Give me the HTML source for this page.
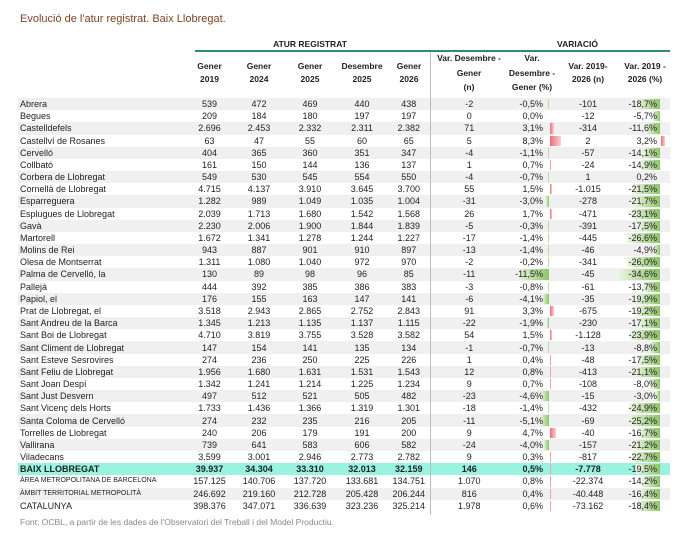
<!DOCTYPE html>
<html><head><meta charset="utf-8"><style>
body{margin:0;width:700px;height:545px;background:#fff;font-family:"Liberation Sans",sans-serif;color:#222;position:relative;overflow:hidden}
.t{position:absolute;left:20px;top:13px;font-size:11px;color:#7e4424}
.h{position:absolute;font-size:8.5px;font-weight:bold;text-align:center;line-height:14.5px;color:#222}
.h2{line-height:13px}
table{position:absolute;left:18px;top:98px;border-collapse:collapse;table-layout:fixed;font-size:9px}
td{height:12.18px;padding:0;line-height:12px;text-align:center;white-space:nowrap}
tr:nth-child(odd) td{background:#f0f0f0}
td:first-child{padding-left:2px;text-align:left}
td.n{border-left:1px solid #bbb}
td.p,td.q{position:relative;text-align:right;padding-right:13px}
i{position:absolute;top:1px;bottom:1px;display:block}
td.p i.g{right:7px;background:linear-gradient(to left,#8cc565,#e6f2dc)}
td.p i.r{left:42px;background:linear-gradient(to right,#ee6e76,#f8d0d3)}
td.q i.g{right:10px;background:linear-gradient(to left,#8cc565,#eef6e8)}
td.q i.r{left:41px;background:linear-gradient(to right,#ee6e76,#f8d0d3)}
td.q span,td.p span{position:relative}
tr.b td{background:#9af3df!important;font-weight:bold}
.sc{font-size:7px}
.f{position:absolute;left:20px;top:517px;font-size:8.5px;color:#888}
</style></head><body>
<div class="t">Evolució de l'atur registrat. Baix Llobregat.</div>
<div class="h" style="left:250px;top:37px;width:120px">ATUR REGISTRAT</div>
<div class="h" style="left:520px;top:37px;width:115px">VARIACIÓ</div>
<div style="position:absolute;left:195px;top:50px;width:475px;height:1.5px;background:#2e8b7a"></div>
<div style="position:absolute;left:430px;top:52px;width:1px;height:463px;background:#bbb"></div>
<div class="h h2" style="left:185px;top:60px;width:49px">Gener<br>2019</div>
<div class="h h2" style="left:234px;top:60px;width:50px">Gener<br>2024</div>
<div class="h h2" style="left:284px;top:60px;width:52px">Gener<br>2025</div>
<div class="h h2" style="left:336px;top:60px;width:52px">Desembre<br>2025</div>
<div class="h h2" style="left:388px;top:60px;width:42px">Gener<br>2026</div>
<div class="h" style="left:430px;top:51px;width:78px">Var. Desembre -<br>Gener<br>(n)</div>
<div class="h" style="left:505px;top:51px;width:54px">Var.<br>Desembre -<br>Gener (%)</div>
<div class="h h2" style="left:556px;top:60px;width:64px">Var. 2019-<br>2026 (n)</div>
<div class="h h2" style="left:618px;top:60px;width:54px">Var. 2019 -<br>2026 (%)</div>
<table>
<colgroup><col style="width:167px"><col style="width:49px"><col style="width:50px"><col style="width:52px"><col style="width:52px"><col style="width:42px"><col style="width:78px"><col style="width:48px"><col style="width:64px"><col style="width:50px"></colgroup>
<tr><td>Abrera</td><td>539</td><td>472</td><td>469</td><td>440</td><td>438</td><td class="n">-2</td><td class="p"><i class="g" style="width:1px"></i><span>-0,5%</span></td><td>-101</td><td class="q"><i class="g" style="width:23px"></i><span>-18,7%</span></td></tr>
<tr><td>Begues</td><td>209</td><td>184</td><td>180</td><td>197</td><td>197</td><td class="n">0</td><td class="p"><span>0,0%</span></td><td>-12</td><td class="q"><i class="g" style="width:7px"></i><span>-5,7%</span></td></tr>
<tr><td>Castelldefels</td><td>2.696</td><td>2.453</td><td>2.332</td><td>2.311</td><td>2.382</td><td class="n">71</td><td class="p"><i class="r" style="width:4px"></i><span>3,1%</span></td><td>-314</td><td class="q"><i class="g" style="width:15px"></i><span>-11,6%</span></td></tr>
<tr><td>Castellví de Rosanes</td><td>63</td><td>47</td><td>55</td><td>60</td><td>65</td><td class="n">5</td><td class="p"><i class="r" style="width:11px"></i><span>8,3%</span></td><td>2</td><td class="q"><i class="r" style="width:4px"></i><span>3,2%</span></td></tr>
<tr><td>Cervelló</td><td>404</td><td>365</td><td>360</td><td>351</td><td>347</td><td class="n">-4</td><td class="p"><i class="g" style="width:1px"></i><span>-1,1%</span></td><td>-57</td><td class="q"><i class="g" style="width:18px"></i><span>-14,1%</span></td></tr>
<tr><td>Collbató</td><td>161</td><td>150</td><td>144</td><td>136</td><td>137</td><td class="n">1</td><td class="p"><i class="r" style="width:1px"></i><span>0,7%</span></td><td>-24</td><td class="q"><i class="g" style="width:19px"></i><span>-14,9%</span></td></tr>
<tr><td>Corbera de Llobregat</td><td>549</td><td>530</td><td>545</td><td>554</td><td>550</td><td class="n">-4</td><td class="p"><i class="g" style="width:1px"></i><span>-0,7%</span></td><td>1</td><td class="q"><span>0,2%</span></td></tr>
<tr><td>Cornellà de Llobregat</td><td>4.715</td><td>4.137</td><td>3.910</td><td>3.645</td><td>3.700</td><td class="n">55</td><td class="p"><i class="r" style="width:2px"></i><span>1,5%</span></td><td>-1.015</td><td class="q"><i class="g" style="width:27px"></i><span>-21,5%</span></td></tr>
<tr><td>Esparreguera</td><td>1.282</td><td>989</td><td>1.049</td><td>1.035</td><td>1.004</td><td class="n">-31</td><td class="p"><i class="g" style="width:3px"></i><span>-3,0%</span></td><td>-278</td><td class="q"><i class="g" style="width:27px"></i><span>-21,7%</span></td></tr>
<tr><td>Esplugues de Llobregat</td><td>2.039</td><td>1.713</td><td>1.680</td><td>1.542</td><td>1.568</td><td class="n">26</td><td class="p"><i class="r" style="width:2px"></i><span>1,7%</span></td><td>-471</td><td class="q"><i class="g" style="width:29px"></i><span>-23,1%</span></td></tr>
<tr><td>Gavà</td><td>2.230</td><td>2.006</td><td>1.900</td><td>1.844</td><td>1.839</td><td class="n">-5</td><td class="p"><i class="g" style="width:1px"></i><span>-0,3%</span></td><td>-391</td><td class="q"><i class="g" style="width:22px"></i><span>-17,5%</span></td></tr>
<tr><td>Martorell</td><td>1.672</td><td>1.341</td><td>1.278</td><td>1.244</td><td>1.227</td><td class="n">-17</td><td class="p"><i class="g" style="width:1px"></i><span>-1,4%</span></td><td>-445</td><td class="q"><i class="g" style="width:33px"></i><span>-26,6%</span></td></tr>
<tr><td>Molins de Rei</td><td>943</td><td>887</td><td>901</td><td>910</td><td>897</td><td class="n">-13</td><td class="p"><i class="g" style="width:1px"></i><span>-1,4%</span></td><td>-46</td><td class="q"><i class="g" style="width:6px"></i><span>-4,9%</span></td></tr>
<tr><td>Olesa de Montserrat</td><td>1.311</td><td>1.080</td><td>1.040</td><td>972</td><td>970</td><td class="n">-2</td><td class="p"><i class="g" style="width:1px"></i><span>-0,2%</span></td><td>-341</td><td class="q"><i class="g" style="width:33px"></i><span>-26,0%</span></td></tr>
<tr><td>Palma de Cervelló, la</td><td>130</td><td>89</td><td>98</td><td>96</td><td>85</td><td class="n">-11</td><td class="p"><i class="g" style="width:30px"></i><span>-11,5%</span></td><td>-45</td><td class="q"><i class="g" style="width:43px"></i><span>-34,6%</span></td></tr>
<tr><td>Pallejà</td><td>444</td><td>392</td><td>385</td><td>386</td><td>383</td><td class="n">-3</td><td class="p"><i class="g" style="width:1px"></i><span>-0,8%</span></td><td>-61</td><td class="q"><i class="g" style="width:17px"></i><span>-13,7%</span></td></tr>
<tr><td>Papiol, el</td><td>176</td><td>155</td><td>163</td><td>147</td><td>141</td><td class="n">-6</td><td class="p"><i class="g" style="width:6px"></i><span>-4,1%</span></td><td>-35</td><td class="q"><i class="g" style="width:25px"></i><span>-19,9%</span></td></tr>
<tr><td>Prat de Llobregat, el</td><td>3.518</td><td>2.943</td><td>2.865</td><td>2.752</td><td>2.843</td><td class="n">91</td><td class="p"><i class="r" style="width:4px"></i><span>3,3%</span></td><td>-675</td><td class="q"><i class="g" style="width:24px"></i><span>-19,2%</span></td></tr>
<tr><td>Sant Andreu de la Barca</td><td>1.345</td><td>1.213</td><td>1.135</td><td>1.137</td><td>1.115</td><td class="n">-22</td><td class="p"><i class="g" style="width:2px"></i><span>-1,9%</span></td><td>-230</td><td class="q"><i class="g" style="width:21px"></i><span>-17,1%</span></td></tr>
<tr><td>Sant Boi de Llobregat</td><td>4.710</td><td>3.819</td><td>3.755</td><td>3.528</td><td>3.582</td><td class="n">54</td><td class="p"><i class="r" style="width:2px"></i><span>1,5%</span></td><td>-1.128</td><td class="q"><i class="g" style="width:30px"></i><span>-23,9%</span></td></tr>
<tr><td>Sant Climent de Llobregat</td><td>147</td><td>154</td><td>141</td><td>135</td><td>134</td><td class="n">-1</td><td class="p"><i class="g" style="width:1px"></i><span>-0,7%</span></td><td>-13</td><td class="q"><i class="g" style="width:11px"></i><span>-8,8%</span></td></tr>
<tr><td>Sant Esteve Sesrovires</td><td>274</td><td>236</td><td>250</td><td>225</td><td>226</td><td class="n">1</td><td class="p"><i class="r" style="width:1px"></i><span>0,4%</span></td><td>-48</td><td class="q"><i class="g" style="width:22px"></i><span>-17,5%</span></td></tr>
<tr><td>Sant Feliu de Llobregat</td><td>1.956</td><td>1.680</td><td>1.631</td><td>1.531</td><td>1.543</td><td class="n">12</td><td class="p"><i class="r" style="width:1px"></i><span>0,8%</span></td><td>-413</td><td class="q"><i class="g" style="width:26px"></i><span>-21,1%</span></td></tr>
<tr><td>Sant Joan Despí</td><td>1.342</td><td>1.241</td><td>1.214</td><td>1.225</td><td>1.234</td><td class="n">9</td><td class="p"><i class="r" style="width:1px"></i><span>0,7%</span></td><td>-108</td><td class="q"><i class="g" style="width:10px"></i><span>-8,0%</span></td></tr>
<tr><td>Sant Just Desvern</td><td>497</td><td>512</td><td>521</td><td>505</td><td>482</td><td class="n">-23</td><td class="p"><i class="g" style="width:7px"></i><span>-4,6%</span></td><td>-15</td><td class="q"><i class="g" style="width:4px"></i><span>-3,0%</span></td></tr>
<tr><td>Sant Vicenç dels Horts</td><td>1.733</td><td>1.436</td><td>1.366</td><td>1.319</td><td>1.301</td><td class="n">-18</td><td class="p"><i class="g" style="width:1px"></i><span>-1,4%</span></td><td>-432</td><td class="q"><i class="g" style="width:31px"></i><span>-24,9%</span></td></tr>
<tr><td>Santa Coloma de Cervelló</td><td>274</td><td>232</td><td>235</td><td>216</td><td>205</td><td class="n">-11</td><td class="p"><i class="g" style="width:8px"></i><span>-5,1%</span></td><td>-69</td><td class="q"><i class="g" style="width:32px"></i><span>-25,2%</span></td></tr>
<tr><td>Torrelles de Llobregat</td><td>240</td><td>206</td><td>179</td><td>191</td><td>200</td><td class="n">9</td><td class="p"><i class="r" style="width:6px"></i><span>4,7%</span></td><td>-40</td><td class="q"><i class="g" style="width:21px"></i><span>-16,7%</span></td></tr>
<tr><td>Vallirana</td><td>739</td><td>641</td><td>583</td><td>606</td><td>582</td><td class="n">-24</td><td class="p"><i class="g" style="width:5px"></i><span>-4,0%</span></td><td>-157</td><td class="q"><i class="g" style="width:27px"></i><span>-21,2%</span></td></tr>
<tr><td>Viladecans</td><td>3.599</td><td>3.001</td><td>2.946</td><td>2.773</td><td>2.782</td><td class="n">9</td><td class="p"><i class="r" style="width:1px"></i><span>0,3%</span></td><td>-817</td><td class="q"><i class="g" style="width:28px"></i><span>-22,7%</span></td></tr>
<tr class="b"><td>BAIX LLOBREGAT</td><td>39.937</td><td>34.304</td><td>33.310</td><td>32.013</td><td>32.159</td><td class="n">146</td><td class="p"><i class="r" style="width:1px"></i><span>0,5%</span></td><td>-7.778</td><td class="q"><i class="g" style="width:24px"></i><span style="font-weight:normal">-19,5%</span></td></tr>
<tr><td class="sc">ÀREA METROPOLITANA DE BARCELONA</td><td>157.125</td><td>140.706</td><td>137.720</td><td>133.681</td><td>134.751</td><td class="n">1.070</td><td class="p"><i class="r" style="width:1px"></i><span>0,8%</span></td><td>-22.374</td><td class="q"><i class="g" style="width:18px"></i><span>-14,2%</span></td></tr>
<tr><td class="sc">ÀMBIT TERRITORIAL METROPOLITÀ</td><td>246.692</td><td>219.160</td><td>212.728</td><td>205.428</td><td>206.244</td><td class="n">816</td><td class="p"><i class="r" style="width:1px"></i><span>0,4%</span></td><td>-40.448</td><td class="q"><i class="g" style="width:21px"></i><span>-16,4%</span></td></tr>
<tr><td>CATALUNYA</td><td>398.376</td><td>347.071</td><td>336.639</td><td>323.236</td><td>325.214</td><td class="n">1.978</td><td class="p"><i class="r" style="width:1px"></i><span>0,6%</span></td><td>-73.162</td><td class="q"><i class="g" style="width:23px"></i><span>-18,4%</span></td></tr>
</table>
<div class="f">Font: OCBL, a partir de les dades de l'Observatori del Treball i del Model Productiu.</div>
</body></html>
